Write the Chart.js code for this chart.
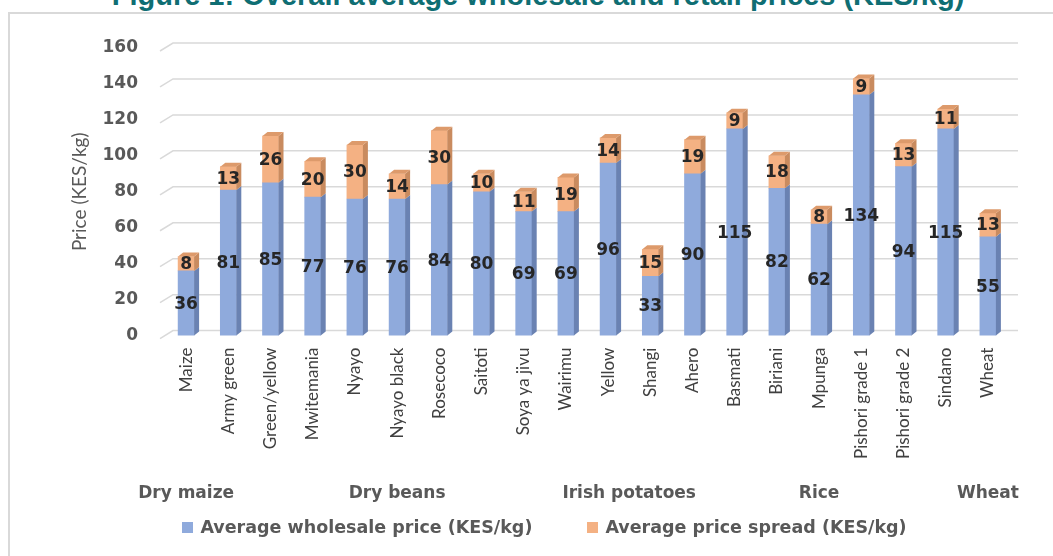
<!DOCTYPE html>
<html>
<head>
<meta charset="utf-8">
<script src="https://cdn.jsdelivr.net/npm/chart.js@4.4.0/dist/chart.umd.min.js"></script>
<style>
    html, body { margin: 0; padding: 0; background: #fff; }
    body { width: 1053px; height: 556px; position: relative; overflow: hidden; }
    .frame { position: absolute; left: 8px; top: 12px; width: 1060px; height: 560px; border: 2px solid #d9d9d9; box-sizing: border-box; }
    .title { position: absolute; top: -19px; left: 0; width: 1076px; text-align: center; font: bold 29px "Liberation Sans", Arial, sans-serif; line-height: 29px; color: #0f6e73; white-space: nowrap; }
    #wrap { position: absolute; left: 0; top: 0; width: 1053px; height: 556px; }
    .legend { position: absolute; left: 0; top: 517px; width: 1089px; display: flex; justify-content: center; gap: 55px; font: bold 17.5px "DejaVu Sans", sans-serif; color: #595959; }
    .legend .box { display: inline-block; width: 11px; height: 11px; margin-right: 7px; }
</style>
</head>
<body>
<div class="frame"></div>
<div class="title">Figure 1: Overall average wholesale and retail prices (KES/kg)</div>
<div id="wrap"><canvas id="chart" width="1053" height="556"></canvas></div>
<div class="legend" id="legend"></div>

<script>
const categories = ["Maize", "Army green", "Green/yellow", "Mwitemania", "Nyayo", "Nyayo black", "Rosecoco", "Saitoti", "Soya ya jivu", "Wairimu",
    "Yellow", "Shangi", "Ahero", "Basmati", "Biriani", "Mpunga", "Pishori grade 1", "Pishori grade 2", "Sindano", "Wheat"];
const wholesale = [36, 81, 85, 77, 76, 76, 84, 80, 69, 69, 96, 33, 90, 115, 82, 62, 134, 94, 115, 55];
const spread = [8, 13, 26, 20, 30, 14, 30, 10, 11, 19, 14, 15, 19, 9, 18, 8, 9, 13, 11, 13];
const groupNames = ["Dry maize", "Dry beans", "Irish potatoes", "Rice", "Wheat"];
const groupSizes = [1, 9, 2, 7, 1];
const yTicks = [0, 20, 40, 60, 80, 100, 120, 140, 160];

const DX = 5, DY = 4;

// grid with the 3D slant on the left, bars with side and top faces, value labels, group labels
const bar3d = {
    id: "bar3d",
    beforeDatasetsDraw(chart) {
        const ctx = chart.ctx;
        const y = chart.scales.y;
        const { left, right } = chart.chartArea;
        ctx.save();
        ctx.strokeStyle = "#d9d9d9";
        ctx.lineWidth = 1.5;
        yTicks.forEach(v => {
            const p = y.getPixelForValue(v);
            ctx.beginPath();
            ctx.moveTo(left - 5, p + 3);
            ctx.lineTo(left + 8, p - 5);
            ctx.lineTo(right + 9, p - 5);
            ctx.stroke();
        });
        ctx.restore();
    },
    afterDatasetsDraw(chart) {
        const ctx = chart.ctx;
        const last = chart.data.datasets.length - 1;
        ctx.save();
        chart.data.datasets.forEach((ds, di) => {
            const meta = chart.getDatasetMeta(di);
            meta.data.forEach(el => {
                const { x, y, base, width } = el.getProps(["x", "y", "base", "width"], true);
                const l = x - width / 2, r = x + width / 2;
                ctx.fillStyle = ds.sideColor;
                ctx.beginPath();
                ctx.moveTo(r, y);
                ctx.lineTo(r + DX, y - DY);
                ctx.lineTo(r + DX, base - DY);
                ctx.lineTo(r, base);
                ctx.closePath();
                ctx.fill();
                if (di === last) {
                    ctx.fillStyle = ds.topColor;
                    ctx.beginPath();
                    ctx.moveTo(l, y);
                    ctx.lineTo(l + DX, y - DY);
                    ctx.lineTo(r + DX, y - DY);
                    ctx.lineTo(r, y);
                    ctx.closePath();
                    ctx.fill();
                }
            });
        });

        ctx.font = "bold 17px 'DejaVu Sans'";
        ctx.fillStyle = "#262626";
        ctx.textAlign = "center";
        ctx.textBaseline = "middle";
        chart.data.datasets.forEach((ds, di) => {
            const meta = chart.getDatasetMeta(di);
            meta.data.forEach((el, i) => {
                const { x, y, base } = el.getProps(["x", "y", "base"], true);
                ctx.fillText(String(ds.data[i]), x, (y + base) / 2 + 1);
            });
        });
        ctx.restore();
    },
    afterDraw(chart) {
        const ctx = chart.ctx;
        const xs = chart.scales.x;
        ctx.save();
        ctx.font = "bold 17px 'DejaVu Sans'";
        ctx.fillStyle = "#595959";
        ctx.textAlign = "center";
        ctx.textBaseline = "middle";
        let start = 0;
        groupSizes.forEach((n, g) => {
            const cx = (xs.getPixelForValue(start) + xs.getPixelForValue(start + n - 1)) / 2;
            ctx.fillText(groupNames[g], cx, xs.bottom + 23);
            start += n;
        });
        ctx.restore();
    }
};

const chart = new Chart(document.getElementById("chart"), {
    type: "bar",
    data: {
        labels: categories,
        datasets: [
            {
                label: "Average wholesale price (KES/kg)",
                data: wholesale,
                backgroundColor: "#8faadc",
                sideColor: "#6a82b2",
                topColor: "#a9bfe6"
            },
            {
                label: "Average price spread (KES/kg)",
                data: spread,
                backgroundColor: "#f4b183",
                sideColor: "#c98b5f",
                topColor: "#dd9a6b"
            }
        ]
    },
    options: {
        responsive: false,
        animation: false,
        barThickness: 16,
        layout: { padding: { left: 68, right: 44, top: 48, bottom: 85 } },
        plugins: {
            legend: { display: false },
            tooltip: { enabled: false }
        },
        scales: {
            x: {
                stacked: true,
                grid: { display: false, drawTicks: false },
                border: { display: false },
                ticks: {
                    maxRotation: 90,
                    minRotation: 90,
                    autoSkip: false,
                    padding: 12,
                    color: "#404040",
                    font: { family: "Lato", size: 17 }
                }
            },
            y: {
                stacked: true,
                min: 0,
                max: 160,
                afterBuildTicks: axis => {
                    axis.ticks = yTicks.map(v => ({ value: v }));
                },
                afterFit: axis => {
                    axis.width = 97;
                },
                grid: { display: false, drawTicks: false },
                border: { display: false },
                ticks: {
                    padding: 27,
                    color: "#595959",
                    font: { family: "DejaVu Sans", size: 17, weight: "bold" }
                },
                title: {
                    display: true,
                    text: "Price (KES/kg)",
                    color: "#595959",
                    padding: { top: 0, bottom: 14 },
                    font: { family: "Lato", size: 19 }
                }
            }
        }
    },
    plugins: [bar3d]
});

// legend built from the datasets
const legendBox = document.getElementById("legend");
chart.data.datasets.forEach(ds => {
    const item = document.createElement("div");
    const box = document.createElement("span");
    box.className = "box";
    box.style.background = ds.backgroundColor;
    item.appendChild(box);
    item.appendChild(document.createTextNode(ds.label));
    legendBox.appendChild(item);
});
</script>
</body>
</html>
